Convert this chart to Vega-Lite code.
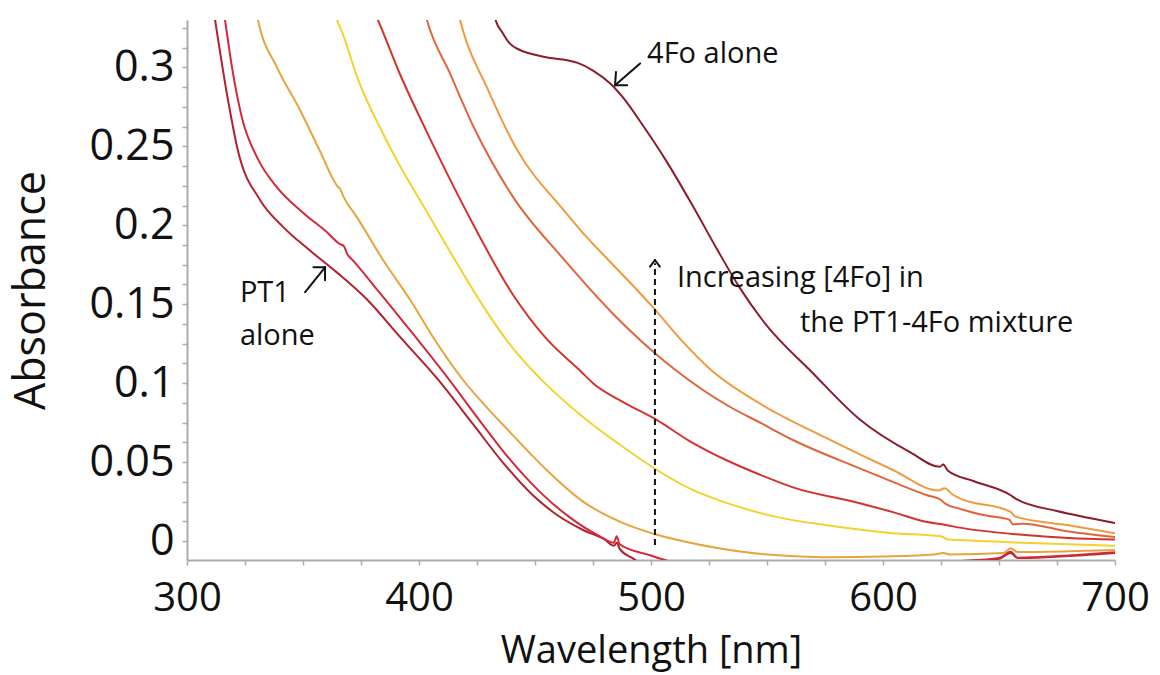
{
  "$schema": "https://vega.github.io/schema/vega-lite/v6.json",
  "width": 928,
  "height": 540,
  "autosize": "none",
  "padding": {"left": 187, "top": 20, "right": 45, "bottom": 115},
  "background": "white",
  "config": {"view": {"stroke": null}, "font": "Open Sans"},
  "datasets": {
    "spectra": [
      {"series": "PT1 alone (1)", "wavelength": 309, "absorbance": 0.36},
      {"series": "PT1 alone (1)", "wavelength": 312.1, "absorbance": 0.33},
      {"series": "PT1 alone (1)", "wavelength": 317.7, "absorbance": 0.279},
      {"series": "PT1 alone (1)", "wavelength": 322, "absorbance": 0.247},
      {"series": "PT1 alone (1)", "wavelength": 331.5, "absorbance": 0.216},
      {"series": "PT1 alone (1)", "wavelength": 341.4, "absorbance": 0.199},
      {"series": "PT1 alone (1)", "wavelength": 353, "absorbance": 0.184},
      {"series": "PT1 alone (1)", "wavelength": 364.7, "absorbance": 0.17},
      {"series": "PT1 alone (1)", "wavelength": 377.6, "absorbance": 0.153},
      {"series": "PT1 alone (1)", "wavelength": 392, "absorbance": 0.129},
      {"series": "PT1 alone (1)", "wavelength": 407.8, "absorbance": 0.103},
      {"series": "PT1 alone (1)", "wavelength": 423.3, "absorbance": 0.074},
      {"series": "PT1 alone (1)", "wavelength": 436, "absorbance": 0.05},
      {"series": "PT1 alone (1)", "wavelength": 449.1, "absorbance": 0.029},
      {"series": "PT1 alone (1)", "wavelength": 460, "absorbance": 0.016},
      {"series": "PT1 alone (1)", "wavelength": 470.7, "absorbance": 0.007},
      {"series": "PT1 alone (1)", "wavelength": 480, "absorbance": 0.001},
      {"series": "PT1 alone (1)", "wavelength": 484, "absorbance": -0.003},
      {"series": "PT1 alone (1)", "wavelength": 485.3, "absorbance": -0.001},
      {"series": "PT1 alone (1)", "wavelength": 486.5, "absorbance": -0.005},
      {"series": "PT1 alone (1)", "wavelength": 492.2, "absorbance": -0.011},
      {"series": "PT1 alone (1)", "wavelength": 500, "absorbance": -0.018},
      {"series": "PT1 alone (1)", "wavelength": 560, "absorbance": -0.028},
      {"series": "PT1 alone (1)", "wavelength": 628, "absorbance": -0.0135},
      {"series": "PT1 alone (1)", "wavelength": 650, "absorbance": -0.0112},
      {"series": "PT1 alone (1)", "wavelength": 655, "absorbance": -0.0075},
      {"series": "PT1 alone (1)", "wavelength": 658, "absorbance": -0.0108},
      {"series": "PT1 alone (1)", "wavelength": 680, "absorbance": -0.0095},
      {"series": "PT1 alone (1)", "wavelength": 700, "absorbance": -0.0076},

      {"series": "PT1 alone (2)", "wavelength": 313.5, "absorbance": 0.36},
      {"series": "PT1 alone (2)", "wavelength": 316.4, "absorbance": 0.33},
      {"series": "PT1 alone (2)", "wavelength": 319.4, "absorbance": 0.3},
      {"series": "PT1 alone (2)", "wavelength": 323.7, "absorbance": 0.268},
      {"series": "PT1 alone (2)", "wavelength": 330.2, "absorbance": 0.243},
      {"series": "PT1 alone (2)", "wavelength": 338.8, "absorbance": 0.224},
      {"series": "PT1 alone (2)", "wavelength": 350, "absorbance": 0.208},
      {"series": "PT1 alone (2)", "wavelength": 360, "absorbance": 0.196},
      {"series": "PT1 alone (2)", "wavelength": 366, "absorbance": 0.188},
      {"series": "PT1 alone (2)", "wavelength": 367.5, "absorbance": 0.187},
      {"series": "PT1 alone (2)", "wavelength": 369, "absorbance": 0.182},
      {"series": "PT1 alone (2)", "wavelength": 372, "absorbance": 0.177},
      {"series": "PT1 alone (2)", "wavelength": 383.2, "absorbance": 0.157},
      {"series": "PT1 alone (2)", "wavelength": 397, "absorbance": 0.132},
      {"series": "PT1 alone (2)", "wavelength": 411, "absorbance": 0.106},
      {"series": "PT1 alone (2)", "wavelength": 426.3, "absorbance": 0.076},
      {"series": "PT1 alone (2)", "wavelength": 439, "absorbance": 0.052},
      {"series": "PT1 alone (2)", "wavelength": 452.2, "absorbance": 0.031},
      {"series": "PT1 alone (2)", "wavelength": 465, "absorbance": 0.015},
      {"series": "PT1 alone (2)", "wavelength": 478, "absorbance": 0.003},
      {"series": "PT1 alone (2)", "wavelength": 484, "absorbance": -0.001},
      {"series": "PT1 alone (2)", "wavelength": 485.2, "absorbance": 0.003},
      {"series": "PT1 alone (2)", "wavelength": 486.5, "absorbance": -0.002},
      {"series": "PT1 alone (2)", "wavelength": 499.6, "absorbance": -0.009},
      {"series": "PT1 alone (2)", "wavelength": 506, "absorbance": -0.012},
      {"series": "PT1 alone (2)", "wavelength": 515, "absorbance": -0.016},
      {"series": "PT1 alone (2)", "wavelength": 570, "absorbance": -0.025},
      {"series": "PT1 alone (2)", "wavelength": 628, "absorbance": -0.0132},
      {"series": "PT1 alone (2)", "wavelength": 650, "absorbance": -0.0108},
      {"series": "PT1 alone (2)", "wavelength": 655, "absorbance": -0.0068},
      {"series": "PT1 alone (2)", "wavelength": 658, "absorbance": -0.0105},
      {"series": "PT1 alone (2)", "wavelength": 680, "absorbance": -0.0091},
      {"series": "PT1 alone (2)", "wavelength": 700, "absorbance": -0.0071},

      {"series": "PT1-4Fo 1", "wavelength": 327, "absorbance": 0.36},
      {"series": "PT1-4Fo 1", "wavelength": 330.6, "absorbance": 0.33},
      {"series": "PT1-4Fo 1", "wavelength": 338.8, "absorbance": 0.3},
      {"series": "PT1-4Fo 1", "wavelength": 348.7, "absorbance": 0.273},
      {"series": "PT1-4Fo 1", "wavelength": 357.3, "absorbance": 0.247},
      {"series": "PT1-4Fo 1", "wavelength": 364.7, "absorbance": 0.225},
      {"series": "PT1-4Fo 1", "wavelength": 366, "absorbance": 0.223},
      {"series": "PT1-4Fo 1", "wavelength": 367.5, "absorbance": 0.218},
      {"series": "PT1-4Fo 1", "wavelength": 373.3, "absorbance": 0.205},
      {"series": "PT1-4Fo 1", "wavelength": 384.5, "absorbance": 0.178},
      {"series": "PT1-4Fo 1", "wavelength": 396.1, "absorbance": 0.153},
      {"series": "PT1-4Fo 1", "wavelength": 407, "absorbance": 0.127},
      {"series": "PT1-4Fo 1", "wavelength": 419, "absorbance": 0.102},
      {"series": "PT1-4Fo 1", "wavelength": 429, "absorbance": 0.085},
      {"series": "PT1-4Fo 1", "wavelength": 439.2, "absorbance": 0.069},
      {"series": "PT1-4Fo 1", "wavelength": 455, "absorbance": 0.045},
      {"series": "PT1-4Fo 1", "wavelength": 470.7, "absorbance": 0.025},
      {"series": "PT1-4Fo 1", "wavelength": 487, "absorbance": 0.012},
      {"series": "PT1-4Fo 1", "wavelength": 502.6, "absorbance": 0.004},
      {"series": "PT1-4Fo 1", "wavelength": 520, "absorbance": -0.002},
      {"series": "PT1-4Fo 1", "wavelength": 535.3, "absorbance": -0.006},
      {"series": "PT1-4Fo 1", "wavelength": 550, "absorbance": -0.0085},
      {"series": "PT1-4Fo 1", "wavelength": 564.2, "absorbance": -0.0098},
      {"series": "PT1-4Fo 1", "wavelength": 576, "absorbance": -0.0103},
      {"series": "PT1-4Fo 1", "wavelength": 600, "absorbance": -0.0098},
      {"series": "PT1-4Fo 1", "wavelength": 622, "absorbance": -0.0085},
      {"series": "PT1-4Fo 1", "wavelength": 626, "absorbance": -0.0075},
      {"series": "PT1-4Fo 1", "wavelength": 629, "absorbance": -0.0085},
      {"series": "PT1-4Fo 1", "wavelength": 652, "absorbance": -0.0076},
      {"series": "PT1-4Fo 1", "wavelength": 655, "absorbance": -0.0045},
      {"series": "PT1-4Fo 1", "wavelength": 658, "absorbance": -0.007},
      {"series": "PT1-4Fo 1", "wavelength": 680, "absorbance": -0.0065},
      {"series": "PT1-4Fo 1", "wavelength": 700, "absorbance": -0.0057},

      {"series": "PT1-4Fo 2", "wavelength": 361.5, "absorbance": 0.35},
      {"series": "PT1-4Fo 2", "wavelength": 364.7, "absorbance": 0.33},
      {"series": "PT1-4Fo 2", "wavelength": 367.2, "absorbance": 0.321},
      {"series": "PT1-4Fo 2", "wavelength": 373.3, "absorbance": 0.294},
      {"series": "PT1-4Fo 2", "wavelength": 384.5, "absorbance": 0.258},
      {"series": "PT1-4Fo 2", "wavelength": 392, "absorbance": 0.237},
      {"series": "PT1-4Fo 2", "wavelength": 400.4, "absorbance": 0.216},
      {"series": "PT1-4Fo 2", "wavelength": 414.7, "absorbance": 0.18},
      {"series": "PT1-4Fo 2", "wavelength": 429.3, "absorbance": 0.145},
      {"series": "PT1-4Fo 2", "wavelength": 440, "absorbance": 0.123},
      {"series": "PT1-4Fo 2", "wavelength": 452.2, "absorbance": 0.103},
      {"series": "PT1-4Fo 2", "wavelength": 460.8, "absorbance": 0.091},
      {"series": "PT1-4Fo 2", "wavelength": 472, "absorbance": 0.077},
      {"series": "PT1-4Fo 2", "wavelength": 486.6, "absorbance": 0.061},
      {"series": "PT1-4Fo 2", "wavelength": 502.6, "absorbance": 0.045},
      {"series": "PT1-4Fo 2", "wavelength": 517, "absorbance": 0.033},
      {"series": "PT1-4Fo 2", "wavelength": 532.8, "absorbance": 0.024},
      {"series": "PT1-4Fo 2", "wavelength": 555, "absorbance": 0.015},
      {"series": "PT1-4Fo 2", "wavelength": 575.9, "absorbance": 0.01},
      {"series": "PT1-4Fo 2", "wavelength": 604.3, "absorbance": 0.005},
      {"series": "PT1-4Fo 2", "wavelength": 625, "absorbance": 0.003},
      {"series": "PT1-4Fo 2", "wavelength": 628, "absorbance": 0.001},
      {"series": "PT1-4Fo 2", "wavelength": 633.2, "absorbance": 0.0006},
      {"series": "PT1-4Fo 2", "wavelength": 660, "absorbance": -0.001},
      {"series": "PT1-4Fo 2", "wavelength": 700, "absorbance": -0.003},

      {"series": "PT1-4Fo 3", "wavelength": 376, "absorbance": 0.35},
      {"series": "PT1-4Fo 3", "wavelength": 382.3, "absorbance": 0.33},
      {"series": "PT1-4Fo 3", "wavelength": 392, "absorbance": 0.295},
      {"series": "PT1-4Fo 3", "wavelength": 403.4, "absorbance": 0.259},
      {"series": "PT1-4Fo 3", "wavelength": 420.7, "absorbance": 0.208},
      {"series": "PT1-4Fo 3", "wavelength": 440.5, "absorbance": 0.156},
      {"series": "PT1-4Fo 3", "wavelength": 455, "absorbance": 0.128},
      {"series": "PT1-4Fo 3", "wavelength": 469.4, "absorbance": 0.108},
      {"series": "PT1-4Fo 3", "wavelength": 475, "absorbance": 0.1},
      {"series": "PT1-4Fo 3", "wavelength": 488, "absorbance": 0.088},
      {"series": "PT1-4Fo 3", "wavelength": 502.6, "absorbance": 0.0766},
      {"series": "PT1-4Fo 3", "wavelength": 517, "absorbance": 0.063},
      {"series": "PT1-4Fo 3", "wavelength": 532.8, "absorbance": 0.051},
      {"series": "PT1-4Fo 3", "wavelength": 547, "absorbance": 0.042},
      {"series": "PT1-4Fo 3", "wavelength": 561.2, "absorbance": 0.034},
      {"series": "PT1-4Fo 3", "wavelength": 590, "absorbance": 0.024},
      {"series": "PT1-4Fo 3", "wavelength": 605, "absorbance": 0.018},
      {"series": "PT1-4Fo 3", "wavelength": 619, "absorbance": 0.012},
      {"series": "PT1-4Fo 3", "wavelength": 626, "absorbance": 0.0105},
      {"series": "PT1-4Fo 3", "wavelength": 633, "absorbance": 0.0085},
      {"series": "PT1-4Fo 3", "wavelength": 660, "absorbance": 0.004},
      {"series": "PT1-4Fo 3", "wavelength": 680, "absorbance": 0.002},
      {"series": "PT1-4Fo 3", "wavelength": 700, "absorbance": 0.001},

      {"series": "PT1-4Fo 4", "wavelength": 400, "absorbance": 0.35},
      {"series": "PT1-4Fo 4", "wavelength": 403.4, "absorbance": 0.33},
      {"series": "PT1-4Fo 4", "wavelength": 413.4, "absorbance": 0.296},
      {"series": "PT1-4Fo 4", "wavelength": 423.3, "absorbance": 0.263},
      {"series": "PT1-4Fo 4", "wavelength": 440.5, "absorbance": 0.218},
      {"series": "PT1-4Fo 4", "wavelength": 462.1, "absorbance": 0.179},
      {"series": "PT1-4Fo 4", "wavelength": 483.6, "absorbance": 0.144},
      {"series": "PT1-4Fo 4", "wavelength": 501.7, "absorbance": 0.119},
      {"series": "PT1-4Fo 4", "wavelength": 510, "absorbance": 0.109},
      {"series": "PT1-4Fo 4", "wavelength": 532.8, "absorbance": 0.086},
      {"series": "PT1-4Fo 4", "wavelength": 547, "absorbance": 0.075},
      {"series": "PT1-4Fo 4", "wavelength": 561.2, "absorbance": 0.064},
      {"series": "PT1-4Fo 4", "wavelength": 590, "absorbance": 0.046},
      {"series": "PT1-4Fo 4", "wavelength": 605, "absorbance": 0.037},
      {"series": "PT1-4Fo 4", "wavelength": 619, "absorbance": 0.029},
      {"series": "PT1-4Fo 4", "wavelength": 625, "absorbance": 0.026},
      {"series": "PT1-4Fo 4", "wavelength": 627, "absorbance": 0.0235},
      {"series": "PT1-4Fo 4", "wavelength": 633, "absorbance": 0.0205},
      {"series": "PT1-4Fo 4", "wavelength": 645, "absorbance": 0.016},
      {"series": "PT1-4Fo 4", "wavelength": 654.5, "absorbance": 0.0135},
      {"series": "PT1-4Fo 4", "wavelength": 656, "absorbance": 0.0105},
      {"series": "PT1-4Fo 4", "wavelength": 660, "absorbance": 0.011},
      {"series": "PT1-4Fo 4", "wavelength": 680, "absorbance": 0.006},
      {"series": "PT1-4Fo 4", "wavelength": 700, "absorbance": 0.0025},

      {"series": "PT1-4Fo 5", "wavelength": 414.5, "absorbance": 0.35},
      {"series": "PT1-4Fo 5", "wavelength": 417.7, "absorbance": 0.33},
      {"series": "PT1-4Fo 5", "wavelength": 430, "absorbance": 0.285},
      {"series": "PT1-4Fo 5", "wavelength": 442.2, "absorbance": 0.248},
      {"series": "PT1-4Fo 5", "wavelength": 462.1, "absorbance": 0.21},
      {"series": "PT1-4Fo 5", "wavelength": 470.7, "absorbance": 0.195},
      {"series": "PT1-4Fo 5", "wavelength": 483.6, "absorbance": 0.175},
      {"series": "PT1-4Fo 5", "wavelength": 494, "absorbance": 0.159},
      {"series": "PT1-4Fo 5", "wavelength": 500.9, "absorbance": 0.148},
      {"series": "PT1-4Fo 5", "wavelength": 512, "absorbance": 0.129},
      {"series": "PT1-4Fo 5", "wavelength": 525.4, "absorbance": 0.109},
      {"series": "PT1-4Fo 5", "wavelength": 547, "absorbance": 0.087},
      {"series": "PT1-4Fo 5", "wavelength": 575.9, "absorbance": 0.065},
      {"series": "PT1-4Fo 5", "wavelength": 604.3, "absorbance": 0.045},
      {"series": "PT1-4Fo 5", "wavelength": 624, "absorbance": 0.032},
      {"series": "PT1-4Fo 5", "wavelength": 626.5, "absorbance": 0.0335},
      {"series": "PT1-4Fo 5", "wavelength": 630, "absorbance": 0.0295},
      {"series": "PT1-4Fo 5", "wavelength": 633.2, "absorbance": 0.027},
      {"series": "PT1-4Fo 5", "wavelength": 655, "absorbance": 0.0185},
      {"series": "PT1-4Fo 5", "wavelength": 657, "absorbance": 0.0155},
      {"series": "PT1-4Fo 5", "wavelength": 680, "absorbance": 0.01},
      {"series": "PT1-4Fo 5", "wavelength": 700, "absorbance": 0.005},

      {"series": "4Fo alone", "wavelength": 430.5, "absorbance": 0.35},
      {"series": "4Fo alone", "wavelength": 432.8, "absorbance": 0.331},
      {"series": "4Fo alone", "wavelength": 436, "absorbance": 0.322},
      {"series": "4Fo alone", "wavelength": 439.2, "absorbance": 0.315},
      {"series": "4Fo alone", "wavelength": 443.5, "absorbance": 0.311},
      {"series": "4Fo alone", "wavelength": 450, "absorbance": 0.308},
      {"series": "4Fo alone", "wavelength": 456.5, "absorbance": 0.306},
      {"series": "4Fo alone", "wavelength": 462, "absorbance": 0.305},
      {"series": "4Fo alone", "wavelength": 468.1, "absorbance": 0.303},
      {"series": "4Fo alone", "wavelength": 475, "absorbance": 0.298},
      {"series": "4Fo alone", "wavelength": 482.3, "absorbance": 0.29},
      {"series": "4Fo alone", "wavelength": 487.9, "absorbance": 0.281},
      {"series": "4Fo alone", "wavelength": 496.6, "absorbance": 0.263},
      {"series": "4Fo alone", "wavelength": 506.9, "absorbance": 0.24},
      {"series": "4Fo alone", "wavelength": 518.1, "absorbance": 0.212},
      {"series": "4Fo alone", "wavelength": 528.4, "absorbance": 0.185},
      {"series": "4Fo alone", "wavelength": 538, "absorbance": 0.161},
      {"series": "4Fo alone", "wavelength": 548, "absorbance": 0.14},
      {"series": "4Fo alone", "wavelength": 570, "absorbance": 0.106},
      {"series": "4Fo alone", "wavelength": 590, "absorbance": 0.077},
      {"series": "4Fo alone", "wavelength": 612, "absorbance": 0.056},
      {"series": "4Fo alone", "wavelength": 624.5, "absorbance": 0.047},
      {"series": "4Fo alone", "wavelength": 626, "absorbance": 0.0485},
      {"series": "4Fo alone", "wavelength": 628, "absorbance": 0.0445},
      {"series": "4Fo alone", "wavelength": 639, "absorbance": 0.038},
      {"series": "4Fo alone", "wavelength": 655, "absorbance": 0.029},
      {"series": "4Fo alone", "wavelength": 657, "absorbance": 0.027},
      {"series": "4Fo alone", "wavelength": 675, "absorbance": 0.019},
      {"series": "4Fo alone", "wavelength": 689, "absorbance": 0.0146},
      {"series": "4Fo alone", "wavelength": 700, "absorbance": 0.0114}
    ],
    "arrows": [
      {"wavelength": 495.3, "absorbance": 0.3025, "wavelength2": 484.5, "absorbance2": 0.2886},
      {"wavelength": 484.5, "absorbance": 0.2886, "wavelength2": 484.9, "absorbance2": 0.297},
      {"wavelength": 484.5, "absorbance": 0.2886, "wavelength2": 489.7, "absorbance2": 0.2886},
      {"wavelength": 350.9, "absorbance": 0.1576, "wavelength2": 359.5, "absorbance2": 0.1734},
      {"wavelength": 359.5, "absorbance": 0.1734, "wavelength2": 354.5, "absorbance2": 0.1734},
      {"wavelength": 359.5, "absorbance": 0.1734, "wavelength2": 359.5, "absorbance2": 0.1652},
      {"wavelength": 501.7, "absorbance": 0.178, "wavelength2": 499.6, "absorbance2": 0.1738},
      {"wavelength": 501.7, "absorbance": 0.178, "wavelength2": 503.8, "absorbance2": 0.1738}
    ],
    "dashed": [
      {"wavelength": 501.7, "absorbance": -0.0025, "wavelength2": 501.7, "absorbance2": 0.176}
    ],
    "labels": [
      {"wavelength": 498.3, "absorbance": 0.3025, "text": "4Fo alone"},
      {"wavelength": 322.8, "absorbance": 0.1513, "text": "PT1"},
      {"wavelength": 322.8, "absorbance": 0.124, "text": "alone"},
      {"wavelength": 511.2, "absorbance": 0.1608, "text": "Increasing [4Fo] in"},
      {"wavelength": 564.2, "absorbance": 0.1323, "text": "the PT1-4Fo mixture"}
    ]
  },
  "encoding": {
    "x": {
      "field": "wavelength", "type": "quantitative",
      "scale": {"domain": [300, 700], "nice": false, "zero": false},
      "axis": {
        "title": "Wavelength [nm]",
        "values": [300, 325, 350, 375, 400, 425, 450, 475, 500, 525, 550, 575, 600, 625, 650, 675, 700],
        "labelExpr": "datum.value % 100 === 0 ? format(datum.value, 'd') : ''",
        "labelFont": "Open Sans", "labelFontSize": 40, "labelColor": "#111111",
        "labelPadding": 13, "labelFlush": false, "labelOverlap": false,
        "domainColor": "#ababab", "domainWidth": 2,
        "tickColor": "#ababab", "tickSize": 5, "tickWidth": 1.5,
        "grid": false,
        "titleFont": "Open Sans", "titleFontSize": 38, "titleFontWeight": "normal", "titleColor": "#111111", "titlePadding": 14
      }
    },
    "y": {
      "field": "absorbance", "type": "quantitative",
      "scale": {"domain": [-0.012, 0.33], "nice": false, "zero": false},
      "axis": {
        "title": "Absorbance",
        "values": [0, 0.0125, 0.025, 0.0375, 0.05, 0.0625, 0.075, 0.0875, 0.1, 0.1125, 0.125, 0.1375, 0.15, 0.1625, 0.175, 0.1875, 0.2, 0.2125, 0.225, 0.2375, 0.25, 0.2625, 0.275, 0.2875, 0.3, 0.3125, 0.325],
        "labelExpr": "abs(datum.value * 20 - round(datum.value * 20)) < 0.000001 ? format(datum.value, '~g') : ''",
        "labelFont": "Open Sans", "labelFontSize": 43, "labelColor": "#111111",
        "labelPadding": 8, "labelOverlap": false, "labelFlush": false,
        "domainColor": "#ababab", "domainWidth": 2,
        "tickColor": "#ababab", "tickSize": 5, "tickWidth": 1.5,
        "grid": false,
        "titleFont": "Open Sans", "titleFontSize": 43, "titleFontWeight": "normal", "titleColor": "#111111", "titlePadding": 35
      }
    }
  },
  "layer": [
    {
      "data": {"name": "spectra"},
      "mark": {"type": "line", "strokeWidth": 2, "clip": true, "interpolate": "monotone"},
      "encoding": {
        "color": {
          "field": "series", "type": "nominal", "legend": null,
          "scale": {
            "domain": ["PT1 alone (1)", "PT1 alone (2)", "PT1-4Fo 1", "PT1-4Fo 2", "PT1-4Fo 3", "PT1-4Fo 4", "PT1-4Fo 5", "4Fo alone"],
            "range": ["#b3202e", "#d32a3a", "#e8a33c", "#f2d22e", "#d5322c", "#e2653a", "#ef9a3e", "#8a1c2b"]
          }
        }
      }
    },
    {
      "data": {"name": "dashed"},
      "mark": {"type": "rule", "strokeWidth": 2, "color": "#111111", "strokeDash": [6, 4]},
      "encoding": {
        "x2": {"field": "wavelength2"},
        "y2": {"field": "absorbance2"}
      }
    },
    {
      "data": {"name": "arrows"},
      "mark": {"type": "rule", "strokeWidth": 2, "color": "#111111", "strokeCap": "round"},
      "encoding": {
        "x2": {"field": "wavelength2"},
        "y2": {"field": "absorbance2"}
      }
    },
    {
      "data": {"name": "labels"},
      "mark": {"type": "text", "align": "left", "baseline": "alphabetic", "font": "Open Sans", "fontSize": 29, "color": "#111111"},
      "encoding": {
        "text": {"field": "text"}
      }
    }
  ]
}
